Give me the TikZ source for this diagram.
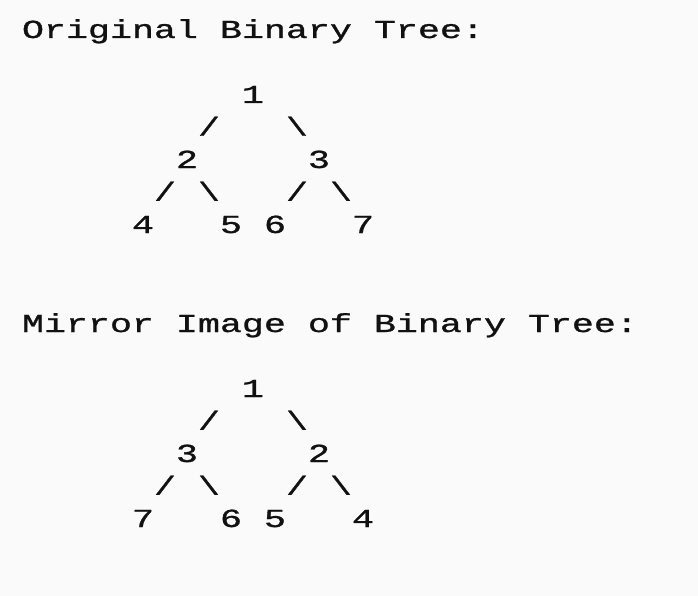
\documentclass[tikz,border=0pt]{standalone}
\usepackage{fontspec}
\usepackage{graphicx}
\newfontfamily\codefont[FakeBold=0.9]{Liberation Mono}
\definecolor{bgcol}{HTML}{FAFAFA}
\definecolor{inkcol}{HTML}{111111}
\newcommand\stretchx[1]{\scalebox{1.41}[1]{#1}}
\tikzset{
  glyph/.style={anchor=base, inner sep=0pt, outer sep=0pt, text=inkcol,
    font=\codefont\fontsize{26pt}{30pt}\selectfont},
  heading/.style={glyph, anchor=base west}
}
\begin{document}
\begin{tikzpicture}[x=1pt,y=-1pt]
\fill[bgcol] (0,0) rectangle (698,596);
\useasboundingbox (0,0) rectangle (698,596);
% first tree
\node[heading] (title1) at (22,38) {\stretchx{Original Binary Tree:}};
\node[glyph] (a1) at (253,103) {\stretchx{1}};
\node[glyph] (as1) at (209,135.5) {\stretchx{/}};
\node[glyph] (ab1) at (297,135.5) {\stretchx{\textbackslash}};
\node[glyph] (a2) at (187,168) {\stretchx{2}};
\node[glyph] (a3) at (319,168) {\stretchx{3}};
\node[glyph] (as2) at (165,200.5) {\stretchx{/}};
\node[glyph] (ab2) at (209,200.5) {\stretchx{\textbackslash}};
\node[glyph] (as3) at (297,200.5) {\stretchx{/}};
\node[glyph] (ab3) at (341,200.5) {\stretchx{\textbackslash}};
\node[glyph] (a4) at (143,233) {\stretchx{4}};
\node[glyph] (a5) at (231,233) {\stretchx{5}};
\node[glyph] (a6) at (275,233) {\stretchx{6}};
\node[glyph] (a7) at (363,233) {\stretchx{7}};
% mirror tree
\node[heading] (title2) at (22,332) {\stretchx{Mirror Image of Binary Tree:}};
\node[glyph] (b1) at (253,397) {\stretchx{1}};
\node[glyph] (bs1) at (209,429.5) {\stretchx{/}};
\node[glyph] (bb1) at (297,429.5) {\stretchx{\textbackslash}};
\node[glyph] (b3) at (187,462) {\stretchx{3}};
\node[glyph] (b2) at (319,462) {\stretchx{2}};
\node[glyph] (bs2) at (165,494.5) {\stretchx{/}};
\node[glyph] (bb2) at (209,494.5) {\stretchx{\textbackslash}};
\node[glyph] (bs3) at (297,494.5) {\stretchx{/}};
\node[glyph] (bb3) at (341,494.5) {\stretchx{\textbackslash}};
\node[glyph] (b7) at (143,527) {\stretchx{7}};
\node[glyph] (b6) at (231,527) {\stretchx{6}};
\node[glyph] (b5) at (275,527) {\stretchx{5}};
\node[glyph] (b4) at (363,527) {\stretchx{4}};
\end{tikzpicture}
\end{document}
